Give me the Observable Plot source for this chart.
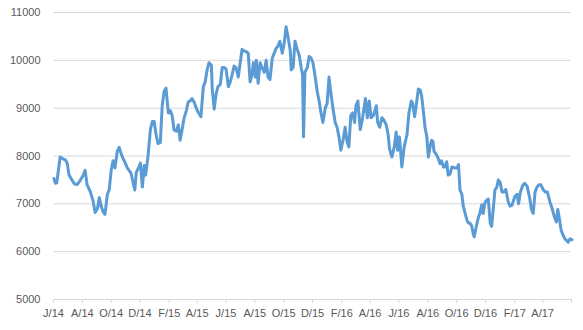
<!DOCTYPE html>
<html><head><meta charset="utf-8">
<script src="https://cdn.jsdelivr.net/npm/d3@7"></script>
<script src="https://cdn.jsdelivr.net/npm/@observablehq/plot@0.6"></script>
<style>body{margin:0;background:#fff}</style>
</head><body><div id="chart"></div>
<script>
const dates = [
"2014-06-02","2014-06-05","2014-06-08","2014-06-12","2014-06-15","2014-06-19","2014-06-26","2014-06-30","2014-07-04","2014-07-10",
"2014-07-15","2014-07-21","2014-07-27","2014-08-03","2014-08-07","2014-08-11","2014-08-18","2014-08-24","2014-08-28","2014-09-02",
"2014-09-06","2014-09-10","2014-09-14","2014-09-18","2014-09-23","2014-09-27","2014-10-01","2014-10-05","2014-10-09","2014-10-14",
"2014-10-18","2014-10-22","2014-10-26","2014-10-31","2014-11-04","2014-11-12","2014-11-17","2014-11-20","2014-11-23","2014-11-29",
"2014-12-02","2014-12-06","2014-12-10","2014-12-13","2014-12-18","2014-12-23","2014-12-27","2014-12-31","2015-01-04","2015-01-08",
"2015-01-13","2015-01-17","2015-01-21","2015-01-25","2015-01-30","2015-02-03","2015-02-07","2015-02-11","2015-02-16","2015-02-20",
"2015-02-24","2015-02-28","2015-03-04","2015-03-09","2015-03-13","2015-03-17","2015-03-21","2015-03-26","2015-03-30","2015-04-03",
"2015-04-09","2015-04-14","2015-04-18","2015-04-22","2015-04-26","2015-05-01","2015-05-03","2015-05-07","2015-05-11","2015-05-15",
"2015-05-20","2015-05-24","2015-05-28","2015-06-01","2015-06-06","2015-06-10","2015-06-14","2015-06-18","2015-06-22","2015-06-27",
"2015-07-01","2015-07-05","2015-07-09","2015-07-14","2015-07-18","2015-07-22","2015-07-26","2015-07-29","2015-08-02","2015-08-04",
"2015-08-08","2015-08-12","2015-08-16","2015-08-21","2015-08-25","2015-08-29","2015-09-02","2015-09-07","2015-09-11","2015-09-15",
"2015-09-19","2015-09-23","2015-09-28","2015-10-02","2015-10-06","2015-10-10","2015-10-15","2015-10-17","2015-10-21","2015-10-25",
"2015-10-29","2015-11-03","2015-11-07","2015-11-10","2015-11-12","2015-11-15","2015-11-20","2015-11-24","2015-11-28","2015-12-02",
"2015-12-06","2015-12-11","2015-12-15","2015-12-19","2015-12-23","2015-12-28","2016-01-01","2016-01-05","2016-01-09","2016-01-14",
"2016-01-18","2016-01-22","2016-01-26","2016-01-30","2016-02-04","2016-02-08","2016-02-12","2016-02-16","2016-02-20","2016-02-24",
"2016-02-28","2016-03-02","2016-03-06","2016-03-11","2016-03-16","2016-03-22","2016-03-26","2016-03-30","2016-04-03","2016-04-08",
"2016-04-14","2016-04-17","2016-04-21","2016-04-26","2016-04-30","2016-05-05","2016-05-09","2016-05-12","2016-05-17","2016-05-22",
"2016-05-26","2016-05-29","2016-06-02","2016-06-07","2016-06-12","2016-06-18","2016-06-22","2016-06-27","2016-06-30","2016-07-04",
"2016-07-07","2016-07-12","2016-07-16","2016-07-19","2016-07-23","2016-07-26","2016-07-30","2016-08-02","2016-08-06","2016-08-09",
"2016-08-12","2016-08-14","2016-08-18","2016-08-23","2016-08-27","2016-08-30","2016-09-03","2016-09-06","2016-09-10","2016-09-13",
"2016-09-17","2016-09-21","2016-09-28","2016-10-02","2016-10-05","2016-10-08","2016-10-12","2016-10-15","2016-10-19","2016-10-23",
"2016-10-26","2016-10-29","2016-11-02","2016-11-05","2016-11-07","2016-11-13","2016-11-16","2016-11-19","2016-11-23","2016-11-26",
"2016-11-30","2016-12-04","2016-12-07","2016-12-11","2016-12-14","2016-12-18","2016-12-21","2016-12-25","2016-12-28","2017-01-01",
"2017-01-05","2017-01-09","2017-01-13","2017-01-18","2017-01-22","2017-01-26","2017-02-01","2017-02-06","2017-02-09","2017-02-13",
"2017-02-18","2017-02-22","2017-02-27","2017-03-05","2017-03-08","2017-03-12","2017-03-16","2017-03-20","2017-03-24","2017-03-28",
"2017-04-02","2017-04-06","2017-04-11","2017-04-16","2017-04-21","2017-04-26","2017-04-30","2017-05-03","2017-05-07","2017-05-10",
"2017-05-14","2017-05-18","2017-05-25","2017-05-29","2017-06-02"
];
const values = [
7530,7430,7440,7750,7980,7950,7920,7850,7600,7500,
7420,7400,7480,7600,7700,7400,7250,7050,6820,6900,
7130,6950,6830,6780,7200,7300,7700,7900,7750,8100,
8180,8050,7950,7850,7750,7640,7420,7290,7650,7780,
7850,7350,7800,7600,8000,8550,8720,8720,8450,8260,
8280,9050,9350,9420,8900,8950,8850,8550,8520,8650,
8330,8550,8780,8950,9130,9150,9200,9120,9000,8920,
8820,9450,9550,9800,9950,9900,9380,8980,9300,9450,
9500,9850,9850,9820,9450,9550,9700,9880,9850,9650,
9950,10230,10200,10180,10150,9550,9700,9950,9650,10000,
9520,9950,9850,9750,10000,9650,9600,10050,10150,10250,
10300,10400,10150,10350,10700,10500,10200,9800,9850,10400,
10250,10100,9850,9700,8400,9750,9850,10080,10050,9950,
9700,9350,9150,8900,8700,9000,9100,9650,9300,8950,
8700,8600,8400,8120,8350,8600,8300,8190,8850,8900,
8700,9060,9150,8550,8800,9200,8800,9150,8800,8850,
9050,8700,8600,8800,8750,8650,8450,8150,7980,8190,
8500,8120,8400,7770,8190,8450,8900,9150,9100,8820,
9020,9400,9380,9250,8900,8600,8400,7980,8200,8330,
8300,8100,8050,7950,7840,7900,7770,7770,7880,7600,
7620,7770,7750,7750,7820,7290,7200,6950,6800,6650,
6600,6600,6530,6380,6310,6590,6720,6800,6980,6800,
7030,7080,7100,6600,6530,6950,7290,7350,7500,7450,
7250,7250,7300,7050,6950,6970,7150,7200,7000,7250,
7390,7430,7370,7100,6890,6800,7250,7350,7400,7400,
7300,7250,7250,7050,6900,6720,6620,6880,6650,6450,
6350,6270,6200,6270,6250
];
const tickDates = ["2014-06-01","2014-08-01","2014-10-01","2014-12-01","2015-02-01","2015-04-01","2015-06-01","2015-08-01","2015-10-01","2015-12-01","2016-02-01","2016-04-01","2016-06-01","2016-08-01","2016-10-01","2016-12-01","2017-02-01","2017-04-01","2017-06-01"];
const tickLabels = ["J/14","A/14","O/14","D/14","F/15","A/15","J/15","A/15","O/15","D/15","F/16","A/16","J/16","A/16","O/16","D/16","F/17","A/17",""];
const yTicks = [5000,6000,7000,8000,9000,10000,11000];

const data = dates.map((d, i) => ({date: new Date(d), value: values[i]}));
const labelMap = new Map(tickDates.map((d, i) => [d, tickLabels[i]]));
const chart = Plot.plot({
  width: 583, height: 330,
  marginLeft: 53, marginRight: 12, marginTop: 12, marginBottom: 31,
  style: {fontFamily: "'Liberation Sans', Arial, sans-serif", fontSize: "11px", background: "#fff", color: "#595959"},
  x: {type: "utc", domain: [new Date("2014-06-01"), new Date("2017-06-01")]},
  y: {domain: [5000, 11000]},
  marks: [
    Plot.gridY(yTicks.slice(1), {stroke: "#d9d9d9", strokeOpacity: 1}),
    Plot.ruleY([5000], {stroke: "#d9d9d9"}),
    Plot.axisY({ticks: yTicks, tickSize: 0, tickPadding: 13, fill: "#595959", label: null, tickFormat: d => String(d)}),
    Plot.axisX({ticks: tickDates.map(d => new Date(d)), tickSize: 4, tickPadding: 6, stroke: "#d9d9d9", fill: "#595959",
      tickFormat: d => labelMap.get(d.toISOString().slice(0, 10)) ?? "", label: null}),
    Plot.line(data, {x: "date", y: "value", stroke: "#5b9bd5", strokeWidth: 3, strokeLinejoin: "round"})
  ]
});
document.getElementById("chart").appendChild(chart);
</script>
</body></html>
